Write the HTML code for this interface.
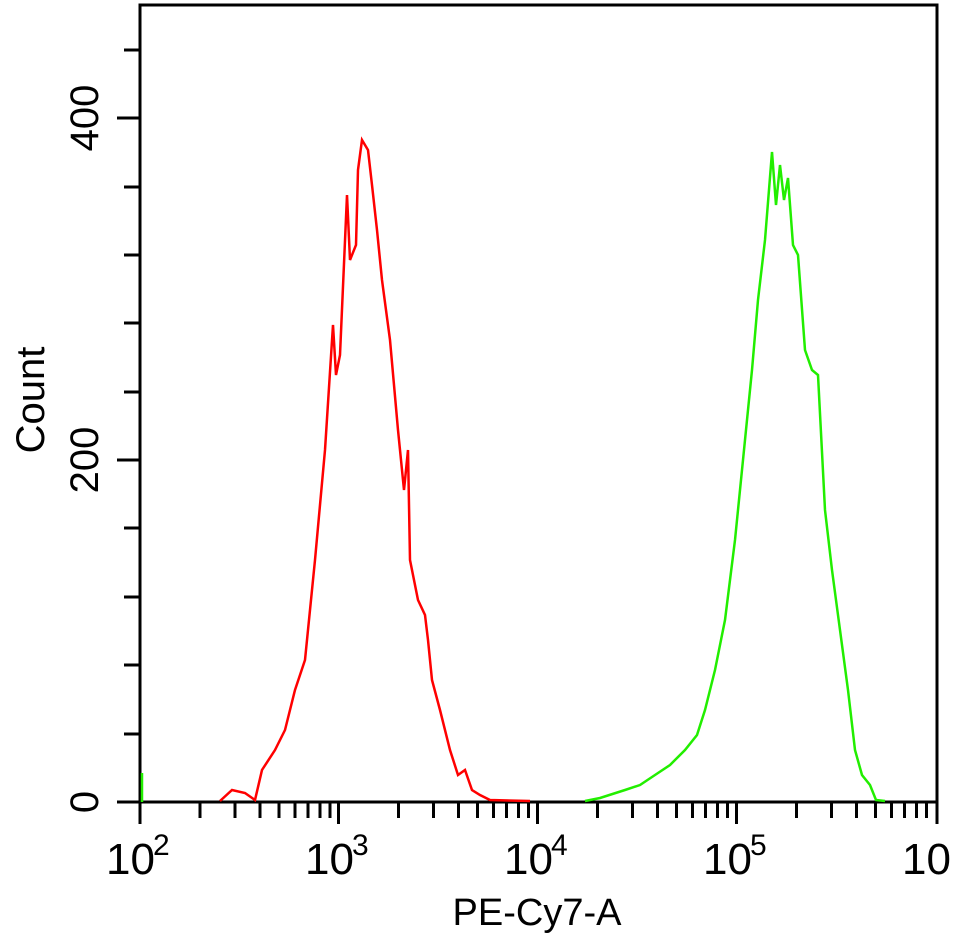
<!DOCTYPE html>
<html><head><meta charset="utf-8"><style>
html,body{margin:0;padding:0;background:#fff;}
svg{display:block;}
text{font-family:"Liberation Sans",Arial,sans-serif;fill:#000;}
</style></head><body>
<svg width="957" height="933" viewBox="0 0 957 933" xmlns="http://www.w3.org/2000/svg">
<g stroke="#000" stroke-width="3" fill="none">
<polyline points="140,824 140,5 937,5 937,824"/>
<line x1="117" y1="802" x2="937" y2="802"/>
<line x1="124" y1="50" x2="140" y2="50"/>
<line x1="117" y1="118" x2="140" y2="118"/>
<line x1="124" y1="187" x2="140" y2="187"/>
<line x1="124" y1="255" x2="140" y2="255"/>
<line x1="124" y1="323" x2="140" y2="323"/>
<line x1="124" y1="392" x2="140" y2="392"/>
<line x1="117" y1="460" x2="140" y2="460"/>
<line x1="124" y1="528" x2="140" y2="528"/>
<line x1="124" y1="597" x2="140" y2="597"/>
<line x1="124" y1="665" x2="140" y2="665"/>
<line x1="124" y1="734" x2="140" y2="734"/>
</g>
<g stroke="#000" stroke-width="3">
<line x1="338.5" y1="802" x2="338.5" y2="824"/>
<line x1="537.5" y1="802" x2="537.5" y2="824"/>
<line x1="736.5" y1="802" x2="736.5" y2="824"/>
<line x1="200" y1="802" x2="200" y2="818"/><line x1="235" y1="802" x2="235" y2="818"/><line x1="260" y1="802" x2="260" y2="818"/><line x1="279" y1="802" x2="279" y2="818"/><line x1="295" y1="802" x2="295" y2="818"/><line x1="308" y1="802" x2="308" y2="818"/><line x1="320" y1="802" x2="320" y2="818"/><line x1="330" y1="802" x2="330" y2="818"/>
<line x1="398.5" y1="802" x2="398.5" y2="818"/><line x1="433.5" y1="802" x2="433.5" y2="818"/><line x1="458.5" y1="802" x2="458.5" y2="818"/><line x1="477.5" y1="802" x2="477.5" y2="818"/><line x1="493.5" y1="802" x2="493.5" y2="818"/><line x1="506.5" y1="802" x2="506.5" y2="818"/><line x1="518.5" y1="802" x2="518.5" y2="818"/><line x1="528.5" y1="802" x2="528.5" y2="818"/>
<line x1="597.5" y1="802" x2="597.5" y2="818"/><line x1="632.5" y1="802" x2="632.5" y2="818"/><line x1="657.5" y1="802" x2="657.5" y2="818"/><line x1="676.5" y1="802" x2="676.5" y2="818"/><line x1="692.5" y1="802" x2="692.5" y2="818"/><line x1="705.5" y1="802" x2="705.5" y2="818"/><line x1="717.5" y1="802" x2="717.5" y2="818"/><line x1="727.5" y1="802" x2="727.5" y2="818"/>
<line x1="796.5" y1="802" x2="796.5" y2="818"/><line x1="831.5" y1="802" x2="831.5" y2="818"/><line x1="856.5" y1="802" x2="856.5" y2="818"/><line x1="875.5" y1="802" x2="875.5" y2="818"/><line x1="891.5" y1="802" x2="891.5" y2="818"/><line x1="904.5" y1="802" x2="904.5" y2="818"/><line x1="916.5" y1="802" x2="916.5" y2="818"/><line x1="926.5" y1="802" x2="926.5" y2="818"/>
</g>
<polyline fill="none" stroke="#ff0000" stroke-width="2.5" points="220,801 232,790 245,793 255,800 262,770 275,750 285,730 295,690 305,660 315,560 325,450 333,325 336,375 340,355 347,195 350,260 356,245 358,170 362,140 368,150 372,185 377,230 382,280 390,340 398,430 404,490 408,450 410,560 418,600 425,615 428,640 432,680 440,710 450,750 458,775 465,770 472,790 480,795 490,800 530,801"/>
<polyline fill="none" stroke="#22ee00" stroke-width="2.5" points="142,802 142,773"/>
<polyline fill="none" stroke="#22ee00" stroke-width="2.5" points="585,801 600,798 625,790 640,785 655,775 670,765 685,750 697,735 705,710 715,670 725,620 735,540 745,440 752,370 758,300 765,240 772,152 776,205 780,165 784,200 788,178 793,245 798,255 805,350 812,370 818,375 825,510 832,570 840,630 848,690 855,750 862,775 870,785 876,800 885,801"/>
<g font-size="44">
<text x="106" y="874">10</text><text x="153" y="855" font-size="30">2</text>
<text x="305" y="874">10</text><text x="352" y="855" font-size="30">3</text>
<text x="504" y="874">10</text><text x="551" y="855" font-size="30">4</text>
<text x="703" y="874">10</text><text x="750" y="855" font-size="30">5</text>
<text x="902" y="874">10</text>
</g>
<text x="537" y="925" font-size="38" text-anchor="middle">PE-Cy7-A</text>
<g font-size="40" text-anchor="middle">
<text transform="translate(98,802) rotate(-90)">0</text>
<text transform="translate(98,460) rotate(-90)">200</text>
<text transform="translate(98,118) rotate(-90)">400</text>
<text transform="translate(44,400) rotate(-90)">Count</text>
</g>
</svg>
</body></html>
